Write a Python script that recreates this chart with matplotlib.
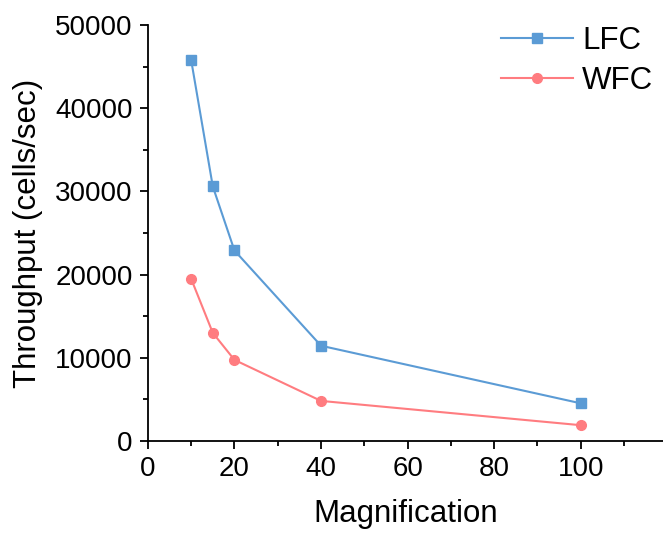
import matplotlib.pyplot as plt
import numpy as np

plt.rcParams['font.family'] = ['Liberation Sans', 'DejaVu Sans']

magnification = [10, 15, 20, 40, 100]
lfc = [45800, 30600, 22900, 11450, 4530]
wfc = [19500, 13000, 9750, 4820, 1900]

fig = plt.figure(figsize=(6.63, 5.33), dpi=100)
ax = fig.add_axes([0.223, 0.1726, 0.777, 0.7805])

ax.plot(magnification, lfc, color='#5B9BD5', marker='s', markersize=7,
        linewidth=1.5, label='LFC')
ax.plot(magnification, wfc, color='#FF7C80', marker='o', markersize=7,
        linewidth=1.5, label='WFC')

ax.set_xlim(0, 119)
ax.set_ylim(0, 50000)
ax.set_xticks([0, 20, 40, 60, 80, 100])
ax.set_xticks(np.arange(10, 120, 20), minor=True)
ax.set_yticks(np.arange(0, 50001, 10000))
ax.set_yticks(np.arange(5000, 50000, 10000), minor=True)

for side in ['top', 'right']:
    ax.spines[side].set_visible(False)
for side in ['left', 'bottom']:
    ax.spines[side].set_linewidth(1.3)

ax.tick_params(which='major', direction='out', length=6, width=1.3,
               labelsize=20, pad=5)
ax.tick_params(which='minor', direction='out', length=3.5, width=1.3)

ax.set_xlabel('Magnification', fontsize=22.5, labelpad=12)
ax.set_ylabel('Throughput (cells/sec)', fontsize=22.5, labelpad=9)

ax.legend(loc='upper right', bbox_to_anchor=(1.005, 1.027), frameon=False,
          fontsize=22.5, handlelength=2.3, borderaxespad=0,
          handletextpad=0.3, labelspacing=0.3)

fig.savefig('out.png', dpi=100)
